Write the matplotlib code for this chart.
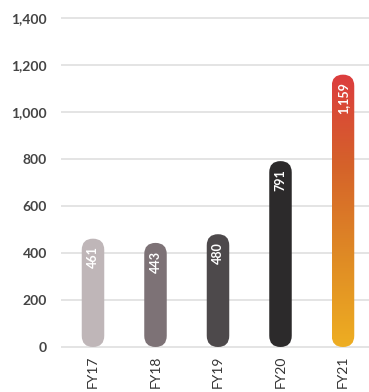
import numpy as np
import matplotlib
matplotlib.use("Agg")
import matplotlib.pyplot as plt
from matplotlib.patches import FancyBboxPatch
from matplotlib.colors import LinearSegmentedColormap

categories = ["FY17", "FY18", "FY19", "FY20", "FY21"]
values = [461, 443, 480, 791, 1159]
value_labels = ["461", "443", "480", "791", "1,159"]
bar_colors = ["#bfb6b8", "#7d7276", "#4d494b", "#2c2a2b", None]
gradient_stops = ["#eeae22", "#df8a25", "#d5622a", "#dc3d3e"]
yticks = [0, 200, 400, 600, 800, 1000, 1200, 1400]
ytick_labels = ["0", "200", "400", "600", "800", "1,000", "1,200", "1,400"]

plt.rcParams['font.family'] = ['Lato', 'DejaVu Sans']

W, H = 369, 392
fig = plt.figure(figsize=(W / 100, H / 100), dpi=100)
ppu = 329 / 1400.0
pad = 20
ax_left, ax_w = 61, 308
ax_bottom = 45 - pad * ppu
ax_h = 329 + 2 * pad * ppu
ax = fig.add_axes([ax_left / W, ax_bottom / H, ax_w / W, ax_h / H])
xmin, xmax = -0.512, 4.416
ax.set_xlim(xmin, xmax)
ax.set_ylim(-pad, 1400 + pad)

for s in ax.spines.values():
    s.set_visible(False)
ax.set_yticks(yticks)
ax.set_yticklabels(ytick_labels)
ax.yaxis.grid(True, color="#e2e2e2", lw=1.3)
ax.set_axisbelow(True)
ax.tick_params(axis='y', length=0, pad=10, labelsize=10, labelcolor="#444444")
for t in ax.get_yticklabels():
    t.set_fontweight('bold')
ax.set_xticks(range(len(categories)))
ax.set_xticklabels(categories, rotation=90, va='top', ha='center')
ax.tick_params(axis='x', length=0, pad=3, labelsize=10, labelcolor="#333333")

w = 0.36
dx_per_px = (xmax - xmin) / ax_w
dy_per_px = 1.0 / ppu
aspect = dy_per_px / dx_per_px
cmap = LinearSegmentedColormap.from_list("g", gradient_stops)

for i, (v, c) in enumerate(zip(values, bar_colors)):
    patch = FancyBboxPatch((i - w / 2, 0), w, v,
                           boxstyle=f"round,pad=0,rounding_size={w / 2}",
                           mutation_aspect=aspect,
                           facecolor=c if c else "none", edgecolor="none",
                           zorder=2, transform=ax.transData)
    ax.add_patch(patch)
    if c is None:
        grad = np.linspace(0, 1, 256).reshape(-1, 1)
        im = ax.imshow(grad, cmap=cmap, origin='lower', aspect='auto',
                       extent=[i - w / 2, i + w / 2, 0, v], zorder=2)
        im.set_clip_path(patch)
    ax.annotate(value_labels[i], xy=(i, v), xytext=(0, -5.5),
                textcoords='offset points', rotation=90, ha='center',
                va='top', color='white', fontsize=9, fontweight='bold',
                zorder=3)

ax.set_xlim(xmin, xmax)
ax.set_ylim(-pad, 1400 + pad)
fig.savefig("out.png", dpi=100)
